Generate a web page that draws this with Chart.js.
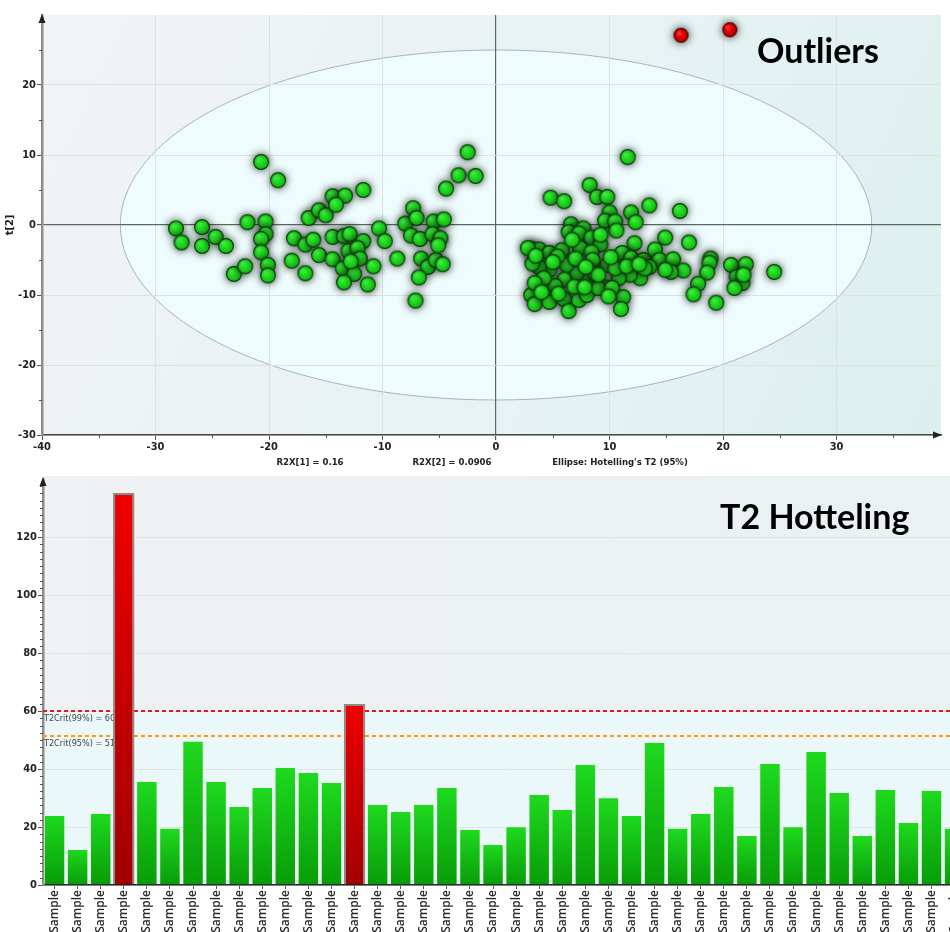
<!DOCTYPE html>
<html>
<head>
<meta charset="utf-8">
<script src="https://cdn.jsdelivr.net/npm/chart.js@4.4.1/dist/chart.umd.min.js"></script>
<style>
  html, body { margin: 0; padding: 0; background: #fff; overflow: hidden; width: 950px; height: 932px; }
  #wrap { position: relative; width: 950px; height: 932px; overflow: hidden; }
  #scores { position: absolute; left: 0; top: 0; }
  #hotelling { position: absolute; left: 0; top: 470px; }
</style>
</head>
<body>
<div id="wrap">
  <canvas id="scores" width="950" height="470" style="width:950px;height:470px"></canvas>
  <canvas id="hotelling" width="970" height="462" style="width:970px;height:462px"></canvas>
</div>
<script>
// ---- PCA score plot: t[1] vs t[2] ----
const scoreT1 = [
  -28.2, -27.7, -25.9, -25.9, -24.7, -23.8, -23.1, -22.1, -21.9, -20.7,
  -19.2, -20.3, -20.3, -20.7, -20.7, -20.1, -20.1, -18.0, -17.8, -16.8,
  -16.1, -16.8, -16.5, -15.6, -15.0, -14.4, -13.3, -14.1, -11.7, -15.6,
  -14.4, -13.4, -12.9, -11.7, -14.4, -13.0, -12.2, -12.0, -13.5, -12.5,
  -13.4, -11.3, -10.8, -10.3, -9.8, -8.7, -8.0, -7.3, -7.0, -7.5,
  -6.7, -6.6, -6.0, -6.8, -7.1, -5.5, -4.6, -5.6, -4.9, -5.3,
  -4.7, -4.4, -3.3, -1.8, -2.5, -5.1, -12.8,
  11.6, 8.25, 4.8, 6.0, 8.9, 9.8, 13.5, 16.2, 10.0, 11.9,
  9.6, 10.5, 12.3, 10.6, 6.6, 6.4, 7.7, 7.3, 8.4, 9.2,
  12.2, 14.9, 17.0, 3.1, 3.8, 4.7, 5.8, 7.4, 8.4, 11.1,
  11.9, 13.0, 14.0, 14.4, 15.6, 18.9, 18.8, 20.7, 22.0, 24.5,
  21.2, 21.7, 21.0, 18.6, 17.8, 17.4, 19.4, 16.5, 15.4, 14.9,
  13.5, 12.7, 11.8, 10.8, 9.8, 10.5, 9.6, 11.2, 11.0, 8.5,
  8.1, 7.1, 6.2, 6.0, 5.2, 4.7, 3.8, 3.1, 3.4, 4.7,
  6.0, 6.4, 7.3, 8.0, 9.0, 10.2, 8.7, 7.0, 5.4, 3.2,
  2.8, 11.5, 13.1, 9.0, 7.9, 6.7, 9.2, 4.2, 5.5, 9.9,
  21.8, 3.5, 5.0, 6.9, 7.8, 10.1, 12.6, 3.4, 4.0
];
const scoreT2 = [
  -0.5, -2.5, -0.3, -3.0, -1.7, -3.0, -7.0, -5.9, 0.4, 9.0,
  6.4, 0.5, -1.3, -2.0, -3.9, -5.7, -7.2, -5.1, -1.9, -2.8,
  -2.1, -6.9, 1.0, 2.1, 1.4, 4.1, 4.2, 2.9, 5.0, -4.3,
  -1.7, -1.6, -1.3, -2.3, -4.9, -3.7, -3.3, -4.8, -6.2, -7.0,
  -8.2, -8.5, -5.9, -0.5, -2.3, -4.8, 0.2, 2.4, 1.0, -1.5,
  -2.0, -4.8, -6.0, -7.5, -10.8, 0.5, 0.8, -1.3, -1.9, -5.0,
  -5.6, 5.2, 7.1, 7.0, 10.4, -2.9, -5.2,
  9.7, 5.7, 3.9, 3.4, 4.0, 4.0, 2.8, 2.0, 1.8, 1.8,
  0.6, 0.5, 0.4, -0.8, 0.1, -1.0, -0.5, -1.2, -1.8, -2.8,
  -2.6, -1.8, -2.5, -3.4, -3.5, -4.0, -3.6, -3.3, -3.9, -4.0,
  -4.7, -5.0, -3.5, -5.0, -4.9, -4.8, -5.4, -5.7, -5.6, -6.7,
  -7.4, -8.3, -9.0, -6.8, -8.4, -9.9, -11.1, -6.5, -6.7, -6.4,
  -6.0, -7.6, -7.1, -7.6, -5.7, -6.2, -8.9, -10.3, -12.0, -5.0,
  -7.8, -6.9, -5.7, -7.8, -8.7, -6.4, -6.0, -10.0, -11.3, -11.0,
  -10.6, -12.3, -10.7, -10.0, -9.0, -9.0, -6.9, -4.8, -4.5, -5.5,
  -3.3, -5.9, -6.2, -7.1, -6.0, -2.1, -1.4, -7.6, -9.8, -10.2,
  -7.1, -4.4, -5.3, -8.8, -8.9, -4.6, -5.6, -8.3, -9.6
];
const outlierT1 = [16.3, 20.6];
const outlierT2 = [27.1, 27.9];

// Hotelling's T2 (95%) ellipse semi-axes, explained variance
const ellipseT1 = 33.1;
const ellipseT2 = 25.0;
const r2x1 = 0.16;
const r2x2 = 0.0906;

// ---- Hotelling's T2 per sample ----
const sampleLabels = Array(40).fill('Sample');
const t2Values = [
  24.1, 12.4, 24.8, 135.2, 35.9, 19.7, 49.7, 35.9, 27.2, 33.8,
  40.7, 39.0, 35.5, 62.4, 27.9, 25.5, 27.9, 33.8, 19.3, 14.1,
  20.3, 31.4, 26.2, 41.7, 30.3, 24.1, 49.3, 19.7, 24.8, 34.1,
  17.2, 42.1, 20.3, 46.2, 32.1, 17.2, 33.1, 21.7, 32.8, 19.7
];
const t2Crit95 = 51.63;
const t2Crit99 = 60.42;

const TICK_FONT = { family: 'DejaVu Sans Condensed', size: 11, weight: 'bold' };
const AXIS_COLOR = '#8d8d8d';

function makeDot(d, light, mid, dark, rim) {
  const c = document.createElement('canvas');
  c.width = d + 2; c.height = d + 2;
  const g = c.getContext('2d');
  const r = d / 2, cx = c.width / 2;
  const grad = g.createRadialGradient(cx - r * 0.3, cx - r * 0.35, 0.5, cx, cx, r);
  grad.addColorStop(0, light); grad.addColorStop(0.5, mid); grad.addColorStop(1, dark);
  g.beginPath(); g.arc(cx, cx, r - 0.6, 0, Math.PI * 2);
  g.fillStyle = grad; g.fill();
  g.lineWidth = 1.2; g.strokeStyle = rim; g.stroke();
  return c;
}
const greenDot = makeDot(16, '#45ea45', '#1ed61e', '#0fb00f', '#0a3f0a');
const redDot = makeDot(15, '#ff3030', '#dd0000', '#b00000', '#4a0000');

function drawMinorTicks(chart, id, step, major, len) {
  const s = chart.scales[id], ctx = chart.ctx, a = chart.chartArea;
  ctx.save(); ctx.strokeStyle = '#555'; ctx.lineWidth = 1;
  for (let v = Math.ceil(s.min / step) * step; v <= s.max; v += step) {
    if (Math.abs(v / major - Math.round(v / major)) < 1e-6) continue;
    const p = Math.round(s.getPixelForValue(v)) + 0.5;
    ctx.beginPath();
    if (s.isHorizontal()) { ctx.moveTo(p, a.bottom); ctx.lineTo(p, a.bottom + len); }
    else { ctx.moveTo(a.left - len, p); ctx.lineTo(a.left, p); }
    ctx.stroke();
  }
  ctx.restore();
}
function arrowUp(ctx, x, y) {
  ctx.beginPath(); ctx.moveTo(x, y); ctx.lineTo(x - 3.5, y + 9); ctx.lineTo(x + 3.5, y + 9); ctx.closePath();
  ctx.fillStyle = '#222'; ctx.fill();
}
function arrowRight(ctx, x, y) {
  ctx.beginPath(); ctx.moveTo(x, y); ctx.lineTo(x - 9, y - 3.5); ctx.lineTo(x - 9, y + 3.5); ctx.closePath();
  ctx.fillStyle = '#222'; ctx.fill();
}

const scoresDecor = {
  id: 'scoresDecor',
  beforeDraw(chart) {
    const { ctx, chartArea: a, scales: { x, y } } = chart;
    ctx.save();
    const g = ctx.createLinearGradient(a.left, a.top, a.right, a.bottom);
    g.addColorStop(0, '#f2f3f4');
    g.addColorStop(0.6, '#e6f2f3');
    g.addColorStop(1, '#dcefef');
    ctx.fillStyle = g;
    ctx.fillRect(a.left, a.top, a.width, a.height);
    const cx = x.getPixelForValue(0), cy = y.getPixelForValue(0);
    const rx = x.getPixelForValue(ellipseT1) - cx;
    const ry = cy - y.getPixelForValue(ellipseT2);
    ctx.beginPath();
    ctx.ellipse(cx, cy, rx, ry, 0, 0, Math.PI * 2);
    ctx.fillStyle = '#effcfd';
    ctx.fill();
    ctx.strokeStyle = '#aab4b6';
    ctx.lineWidth = 1;
    ctx.stroke();
    ctx.restore();
  },
  beforeDatasetsDraw(chart) {
    const ctx = chart.ctx;
    ctx.save();
    ctx.shadowColor = 'rgba(20,30,20,0.9)';
    ctx.shadowBlur = 8;
  },
  afterDatasetsDraw(chart) {
    chart.ctx.restore();
  },
  afterDraw(chart) {
    const { ctx, chartArea: a } = chart;
    drawMinorTicks(chart, 'x', 5, 10, 3);
    drawMinorTicks(chart, 'y', 5, 10, 3);
    arrowUp(ctx, a.left, a.top - 1);
    arrowRight(ctx, a.right + 1, a.bottom);
    ctx.save();
    ctx.fillStyle = '#222';
    ctx.font = 'bold 11px "DejaVu Sans Condensed"';
    ctx.translate(10, (a.top + a.bottom) / 2);
    ctx.rotate(-Math.PI / 2);
    ctx.textAlign = 'center';
    ctx.textBaseline = 'middle';
    ctx.fillText('t[2]', 0, 0);
    ctx.restore();

    ctx.save();
    ctx.fillStyle = '#222';
    ctx.font = 'bold 9.5px "DejaVu Sans Condensed"';
    ctx.textAlign = 'center';
    ctx.textBaseline = 'alphabetic';
    ctx.fillText('R2X[1] = ' + r2x1, 310, 465);
    ctx.fillText('R2X[2] = ' + r2x2, 452, 465);
    ctx.fillText("Ellipse: Hotelling's T2 (95%)", 620, 465);
    ctx.font = 'bold 34px Lato';
    ctx.textAlign = 'left';
    ctx.fillStyle = '#000';
    ctx.fillText('Outliers', 757, 63);
    ctx.restore();
  }
};

new Chart(document.getElementById('scores'), {
  type: 'scatter',
  data: {
    datasets: [
      {
        label: 'Samples',
        data: scoreT1.map((v, i) => ({ x: v, y: scoreT2[i] })),
        pointStyle: greenDot,
        pointRadius: 8
      },
      {
        label: 'Outliers',
        data: outlierT1.map((v, i) => ({ x: v, y: outlierT2[i] })),
        pointStyle: redDot,
        pointRadius: 7.5
      }
    ]
  },
  options: {
    responsive: false,
    animation: false,
    events: [],
    layout: { padding: { top: 15, right: 2, left: 0, bottom: 0 } },
    plugins: { legend: { display: false }, tooltip: { enabled: false } },
    scales: {
      x: {
        type: 'linear',
        min: -40, max: 39.2,
        ticks: { stepSize: 10, color: '#222', font: TICK_FONT, padding: 1, maxRotation: 0 },
        afterBuildTicks: s => { s.ticks = s.ticks.filter(t => t.value % 10 === 0 && t.value <= 30); },
        afterFit: s => { s.height = 35; },
        grid: {
          color: c => (c.tick && c.tick.value === 0) ? '#5f6466' : '#dae2e5',
          lineWidth: c => (c.tick && c.tick.value === 0) ? 1.2 : 1,
          tickColor: '#555', tickLength: 5
        },
        border: { display: true, color: '#4a4a4a', width: 1.5 }
      },
      y: {
        type: 'linear',
        min: -30, max: 30,
        ticks: { stepSize: 10, color: '#222', font: TICK_FONT, padding: 1 },
        afterBuildTicks: s => { s.ticks = s.ticks.filter(t => t.value % 10 === 0 && t.value <= 20); },
        afterFit: s => { s.width = 42; },
        grid: {
          color: c => (c.tick && c.tick.value === 0) ? '#5f6466' : '#dae2e5',
          lineWidth: c => (c.tick && c.tick.value === 0) ? 1.2 : 1,
          tickColor: '#555', tickLength: 5
        },
        border: { display: true, color: AXIS_COLOR, width: 2.5 }
      }
    }
  },
  plugins: [scoresDecor]
});

// ---- Hotelling's T2 bar chart ----
const hotellingDecor = {
  id: 'hotellingDecor',
  beforeDraw(chart) {
    const { ctx, chartArea: a, scales: { y } } = chart;
    const split = y.getPixelForValue(t2Crit99);
    ctx.save();
    const gTop = ctx.createLinearGradient(a.left, 0, a.right, 0);
    gTop.addColorStop(0, '#eff1f2'); gTop.addColorStop(1, '#e9f1f2');
    ctx.fillStyle = gTop;
    ctx.fillRect(a.left, a.top - 3, a.width, split - a.top + 3);
    ctx.fillStyle = '#ebf8f9';
    ctx.fillRect(a.left, split, a.width, a.bottom - split);
    ctx.restore();
  },
  beforeDatasetsDraw(chart) {
    const { ctx, chartArea: a, scales: { y } } = chart;
    const lines = [
      { v: t2Crit99, color: '#e8181a', text: 'T2Crit(99%) = ' + t2Crit99 },
      { v: t2Crit95, color: '#ff9a00', text: 'T2Crit(95%) = ' + t2Crit95 }
    ];
    ctx.save();
    lines.forEach(l => {
      const p = Math.round(y.getPixelForValue(l.v)) + 0.5;
      ctx.strokeStyle = l.color;
      ctx.lineWidth = 1;
      ctx.setLineDash([4, 3]);
      ctx.beginPath(); ctx.moveTo(a.left, p); ctx.lineTo(a.right, p); ctx.stroke();
      ctx.beginPath(); ctx.moveTo(a.left, p + 1); ctx.lineTo(a.right, p + 1); ctx.stroke();
      ctx.setLineDash([]);
      ctx.fillStyle = '#444';
      ctx.font = '9px "DejaVu Sans Condensed"';
      ctx.textBaseline = 'alphabetic';
      ctx.fillText(l.text, a.left + 1, p + 10);
    });
    ctx.restore();
  },
  afterDraw(chart) {
    const { ctx, chartArea: a } = chart;
    drawMinorTicks(chart, 'y', 2.5, 20, 3);
    arrowUp(ctx, a.left, a.top - 2);
    ctx.save();
    ctx.fillStyle = '#000';
    ctx.font = 'bold 34px Lato';
    ctx.textBaseline = 'alphabetic';
    ctx.fillText('T2 Hotteling', 720, 59);
    ctx.restore();
  }
};

function barFill(c) {
  const v = c.raw;
  const red = v > t2Crit99;
  const chart = c.chart;
  if (!chart.chartArea) return red ? '#d00000' : '#14bb14';
  const ys = chart.scales.y;
  const top = ys.getPixelForValue(v), base = ys.getPixelForValue(0);
  const g = chart.ctx.createLinearGradient(0, top, 0, base);
  if (red) { g.addColorStop(0, '#f00000'); g.addColorStop(1, '#a00000'); }
  else { g.addColorStop(0, '#1fda1f'); g.addColorStop(1, '#089c08'); }
  return g;
}

new Chart(document.getElementById('hotelling'), {
  type: 'bar',
  data: {
    labels: sampleLabels,
    datasets: [{
      label: "Hotelling's T2",
      data: t2Values,
      backgroundColor: barFill,
      borderColor: c => c.raw > t2Crit99 ? '#8a8a8a' : 'rgba(235,245,235,0.85)',
      borderWidth: c => c.raw > t2Crit99 ? 2 : 1,
      borderSkipped: 'start',
      barPercentage: 0.93,
      categoryPercentage: 1.0
    }]
  },
  options: {
    responsive: false,
    animation: false,
    events: [],
    layout: { padding: { top: 9, right: 0, left: 0, bottom: 0 } },
    plugins: { legend: { display: false }, tooltip: { enabled: false } },
    scales: {
      x: {
        type: 'category',
        ticks: {
          color: '#2a2a2a',
          font: { family: 'Open Sans', size: 12, weight: '600' },
          minRotation: 90, maxRotation: 90, autoSkip: false, padding: 1
        },
        afterFit: s => { s.height = 47; },
        grid: { display: true, offset: false, drawOnChartArea: false, tickLength: 4, tickColor: '#555' },
        border: { display: true, color: '#1a1a1a', width: 1.5 }
      },
      y: {
        min: 0, max: 140,
        ticks: { stepSize: 20, color: '#222', font: TICK_FONT, padding: 1 },
        afterBuildTicks: s => { s.ticks = s.ticks.filter(t => t.value <= 120); },
        afterFit: s => { s.width = 43; },
        grid: { color: '#dfe5e7', tickColor: '#555', tickLength: 5 },
        border: { display: true, color: AXIS_COLOR, width: 2.5 }
      }
    }
  },
  plugins: [hotellingDecor]
});
</script>
</body>
</html>
